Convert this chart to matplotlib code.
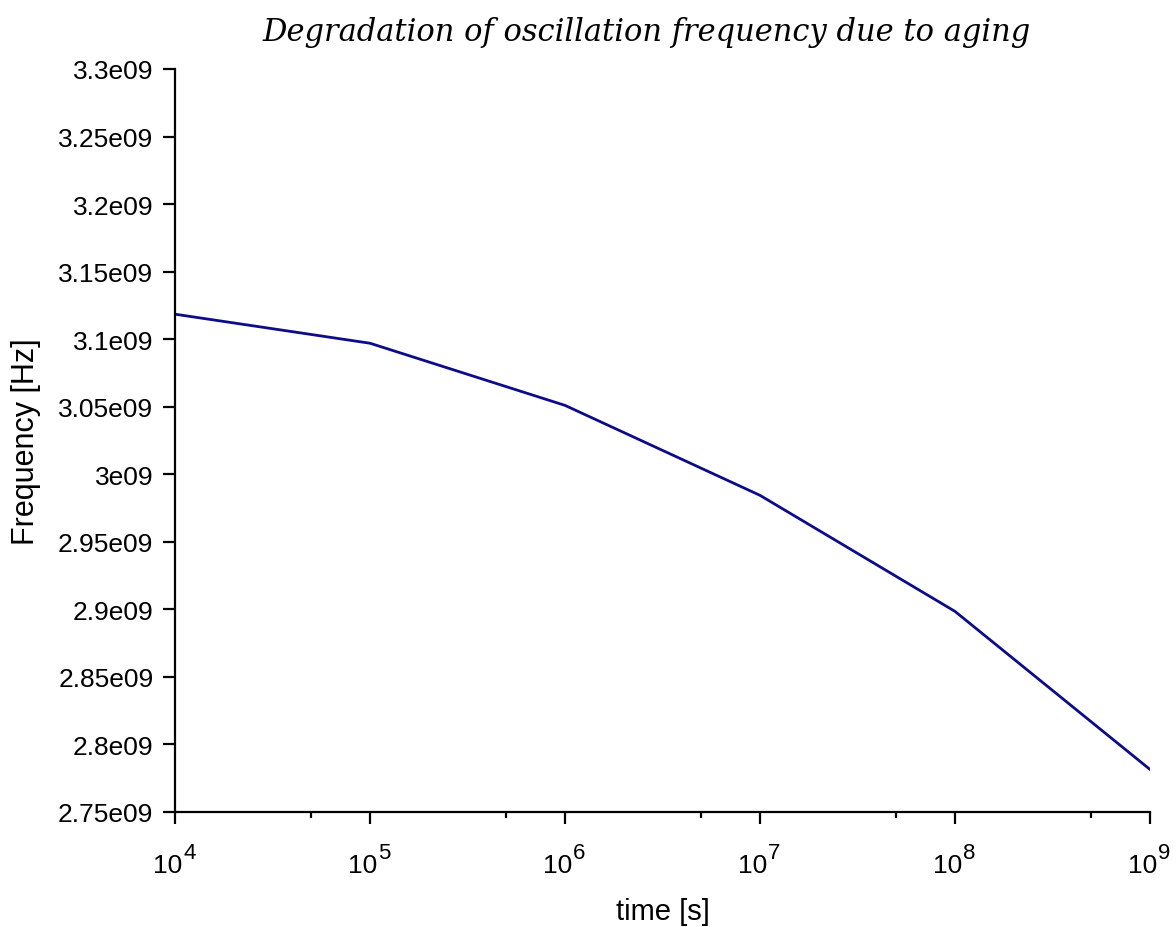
import math

import matplotlib
matplotlib.use("Agg")
import matplotlib.pyplot as plt
from matplotlib.ticker import FixedLocator, FuncFormatter, LogLocator, NullFormatter

# values (linear between decades)
time_s = [1e4, 1e5, 1e6, 1e7, 1e8, 1e9]
freq_hz = [3.1185e9, 3.097e9, 3.051e9, 2.9844e9, 2.8985e9, 2.7815e9]
x_ticks = [1e4, 1e5, 1e6, 1e7, 1e8, 1e9]
y_ticks = [2.75e9, 2.8e9, 2.85e9, 2.9e9, 2.95e9, 3.0e9, 3.05e9, 3.1e9, 3.15e9, 3.2e9, 3.25e9, 3.3e9]

plt.rcParams["font.family"] = ["Liberation Sans", "DejaVu Sans"]

fig = plt.figure(figsize=(11.76, 9.28), dpi=100)
ax = fig.add_axes([175 / 1176, 1 - 813 / 928, 975 / 1176, 743 / 928])

ax.plot(time_s, freq_hz, color="#0c0c8a", linewidth=2.0)

ax.set_xscale("log")
ax.set_xlim(1e4, 1e9)
ax.set_ylim(2.75e9, 3.3e9)

ax.xaxis.set_major_locator(FixedLocator(x_ticks))
ax.xaxis.set_major_formatter(NullFormatter())
ax.xaxis.set_minor_locator(LogLocator(base=10, subs=[5], numticks=10))
ax.xaxis.set_minor_formatter(NullFormatter())

# decade labels drawn as "10" plus a large exponent, like the original
for v in x_ticks:
    e = round(math.log10(v))
    ax.annotate("10", xy=(v, 0), xycoords=("data", "axes fraction"),
                xytext=(5, -43), textcoords="offset points",
                ha="right", va="baseline", fontsize=19, annotation_clip=False)
    ax.annotate(str(e), xy=(v, 0), xycoords=("data", "axes fraction"),
                xytext=(6, -21.5), textcoords="offset points",
                ha="left", va="top", fontsize=16, annotation_clip=False)

ax.yaxis.set_major_locator(FixedLocator(y_ticks))
ax.yaxis.set_major_formatter(FuncFormatter(lambda v, _: f"{v / 1e9:g}e09"))

for side in ["top", "right"]:
    ax.spines[side].set_visible(False)
for side in ["left", "bottom"]:
    ax.spines[side].set_linewidth(1.6)

ax.tick_params(axis="both", which="major", direction="out", length=8.5, width=1.6,
               labelsize=19, pad=7)
ax.tick_params(axis="x", which="minor", direction="out", length=4, width=1.6)

ax.set_xlabel("time [s]", fontsize=21, labelpad=46)
ax.set_ylabel("Frequency [Hz]", fontsize=22, labelpad=12)

fig.text(647 / 1176, 1 - 32 / 928, "Degradation of oscillation frequency due to aging",
         ha="center", va="center", fontsize=22, family="DejaVu Serif", style="italic")

fig.savefig("out.png", dpi=100)
